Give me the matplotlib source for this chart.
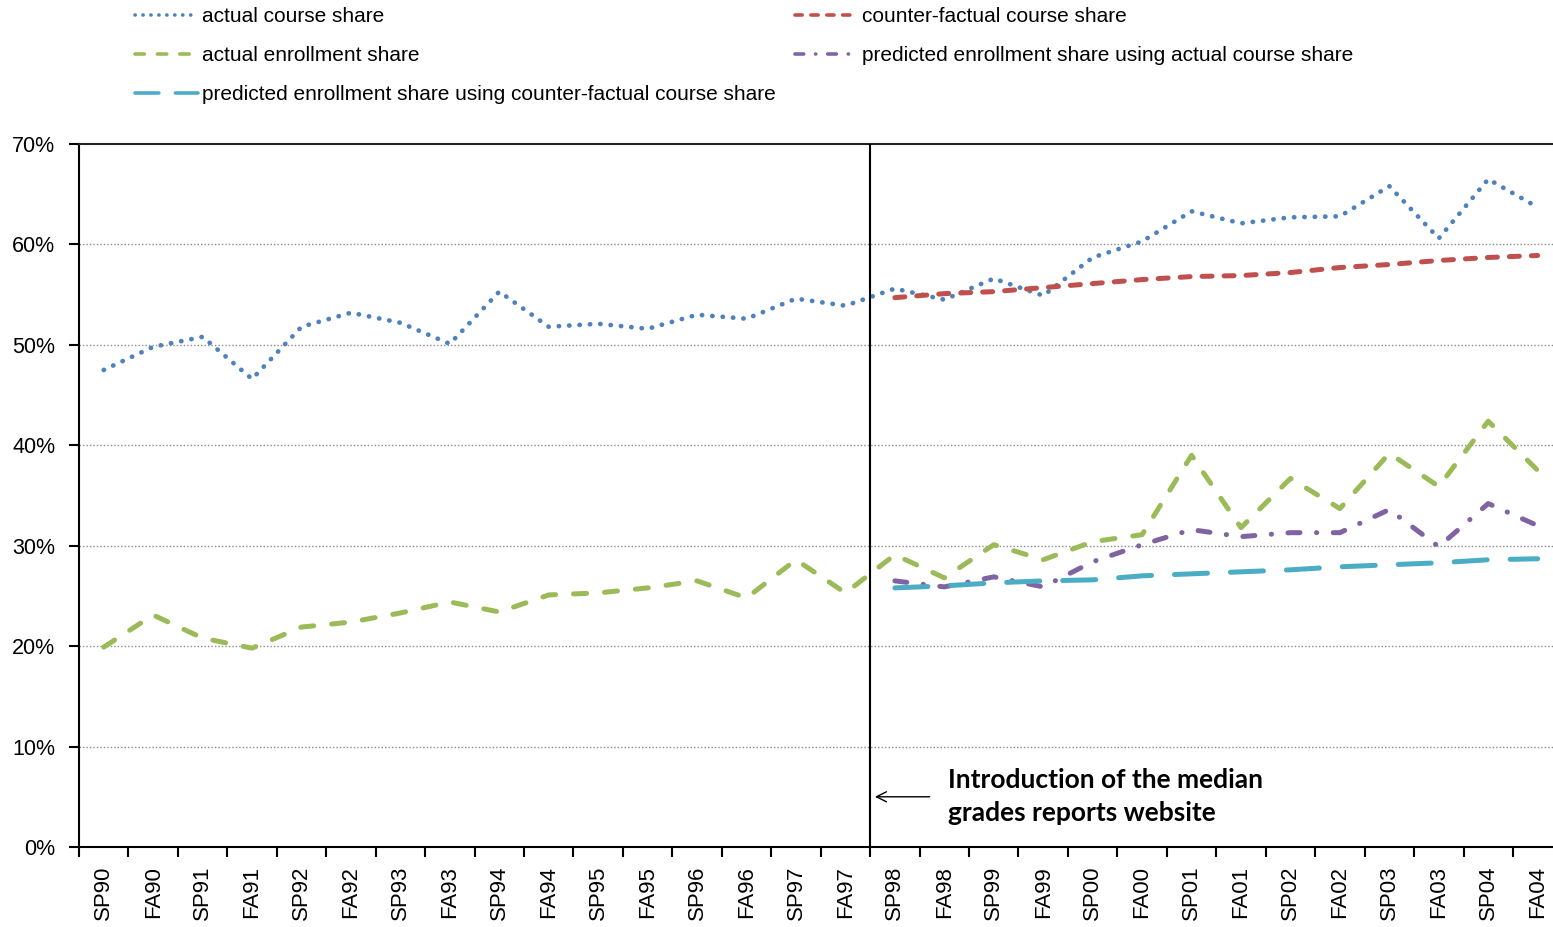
import matplotlib
matplotlib.use("Agg")
import matplotlib.pyplot as plt
import numpy as np

plt.rcParams['font.family'] = ['Liberation Sans', 'DejaVu Sans']

terms = ["SP90", "FA90", "SP91", "FA91", "SP92", "FA92", "SP93", "FA93", "SP94", "FA94",
         "SP95", "FA95", "SP96", "FA96", "SP97", "FA97", "SP98", "FA98", "SP99", "FA99",
         "SP00", "FA00", "SP01", "FA01", "SP02", "FA02", "SP03", "FA03", "SP04", "FA04"]

actual_course = [47.5, 49.8, 50.8, 46.6, 51.8, 53.2, 52.2, 50.1, 55.3, 51.8,
                 52.1, 51.6, 53.0, 52.6, 54.6, 53.9, 55.6, 54.5, 56.6, 54.9,
                 58.7, 60.3, 63.3, 62.1, 62.7, 62.8, 65.8, 60.6, 66.5, 63.7]

actual_enroll = [19.9, 23.1, 20.8, 19.8, 21.9, 22.4, 23.3, 24.4, 23.4, 25.1,
                 25.3, 25.8, 26.5, 24.8, 28.6, 25.3, 29.1, 26.8, 30.1, 28.6,
                 30.4, 31.1, 39.0, 31.8, 36.7, 33.7, 39.2, 35.9, 42.4, 37.5]

# series that start at SP98
post_terms = terms[16:]
counterfactual_course = [54.7, 55.1, 55.3, 55.7, 56.1, 56.5, 56.8, 56.9, 57.2, 57.7, 58.0, 58.4, 58.7, 58.9]
pred_enroll_actual = [26.5, 25.9, 26.9, 25.9, 28.4, 30.1, 31.6, 30.9, 31.3, 31.3, 33.6, 29.9, 34.2, 32.0]
pred_enroll_cf = [25.8, 26.0, 26.3, 26.5, 26.6, 27.0, 27.2, 27.4, 27.6, 27.9, 28.1, 28.3, 28.6, 28.7]

yticks = [0, 10, 20, 30, 40, 50, 60, 70]
annotation = "Introduction of the median\ngrades reports website"

W, H = 1553, 927
fig = plt.figure(figsize=(W / 100, H / 100), dpi=100)
ax = fig.add_axes([79 / W, (H - 847) / H, (W - 79) / W, (847 - 144) / H])

x_all = np.arange(len(terms))
x_post = np.arange(16, 16 + len(post_terms))

blue, red, green, purple, cyan = "#4F81BD", "#C0504D", "#9BBB59", "#8064A2", "#4BACC6"

l_blue, = ax.plot(x_all, actual_course, color=blue, lw=3.4, dash_capstyle='round',
                  label="actual course share")
l_blue.set_dashes((0.05, 2.15))
l_red, = ax.plot(x_post, counterfactual_course, color=red, lw=3.6, dash_capstyle='round',
                 label="counter-factual course share")
l_red.set_dashes((2.0, 2.4))
l_green, = ax.plot(x_all, actual_enroll, color=green, lw=3.6, dash_capstyle='round',
                   label="actual enrollment share")
l_green.set_dashes((2.6, 3.6))
l_purple, = ax.plot(x_post, pred_enroll_actual, color=purple, lw=3.6, dash_capstyle='round',
                    label="predicted enrollment share using actual course share")
l_purple.set_dashes((2.4, 3.3, 0.05, 3.3))
l_cyan, = ax.plot(x_post, pred_enroll_cf, color=cyan, lw=3.6, dash_capstyle='round',
                  label="predicted enrollment share using counter-factual course share")
l_cyan.set_dashes((6.6, 4.6))

ax.set_yticks(yticks)
ax.set_yticklabels([f"{v}%" for v in yticks])
ax.set_xticks(x_all)
ax.set_xticklabels(terms, rotation=90)
ax.set_xticks(np.arange(-0.5, 29.6, 1.0), minor=True)
ax.set_xlim(-0.5, 29.31)
ax.set_ylim(0, 70)
ax.tick_params(axis='x', which='major', length=0, pad=13.5, labelsize=16)
ax.tick_params(axis='x', which='minor', length=7, width=1.5, direction='out')
ax.tick_params(axis='y', which='major', length=7, width=1.5, direction='out', labelsize=15.5, pad=10)

for v in yticks[1:-1]:
    ax.axhline(v, color="#8C8C8C", lw=1.0, ls=(0, (1, 1.5)), zorder=0)

for s in ['left', 'bottom']:
    ax.spines[s].set_linewidth(1.5)
    ax.spines[s].set_color('black')
ax.spines['top'].set_linewidth(1.5)
ax.spines['top'].set_color('#222222')
ax.spines['right'].set_visible(False)

ax.axvline(15.5, color='black', lw=1.5, zorder=3)

ax.annotate("", xy=(15.54, 5.0), xytext=(16.76, 5.0),
            arrowprops=dict(arrowstyle='->', color='black', lw=1.0, mutation_scale=18))
ax.text(17.07, 5.0, annotation, ha='left', va='center', fontsize=19,
        fontweight='bold', family=['Lato', 'DejaVu Sans'], linespacing=1.45)

handles = [l_blue, l_green, l_cyan, l_red, l_purple]
leg = fig.legend(handles=handles, labels=[h.get_label() for h in handles], ncol=2,
                 loc='upper left', bbox_to_anchor=(135 / W, 1.0 - 7 / H), frameon=False,
                 fontsize=15, handlelength=3.0, handletextpad=0.2, columnspacing=0.95,
                 labelspacing=0.97, borderaxespad=0, borderpad=0)
for lh in leg.get_lines():
    lh.set_linewidth(2.6)

fig.savefig("out.png", dpi=100)
